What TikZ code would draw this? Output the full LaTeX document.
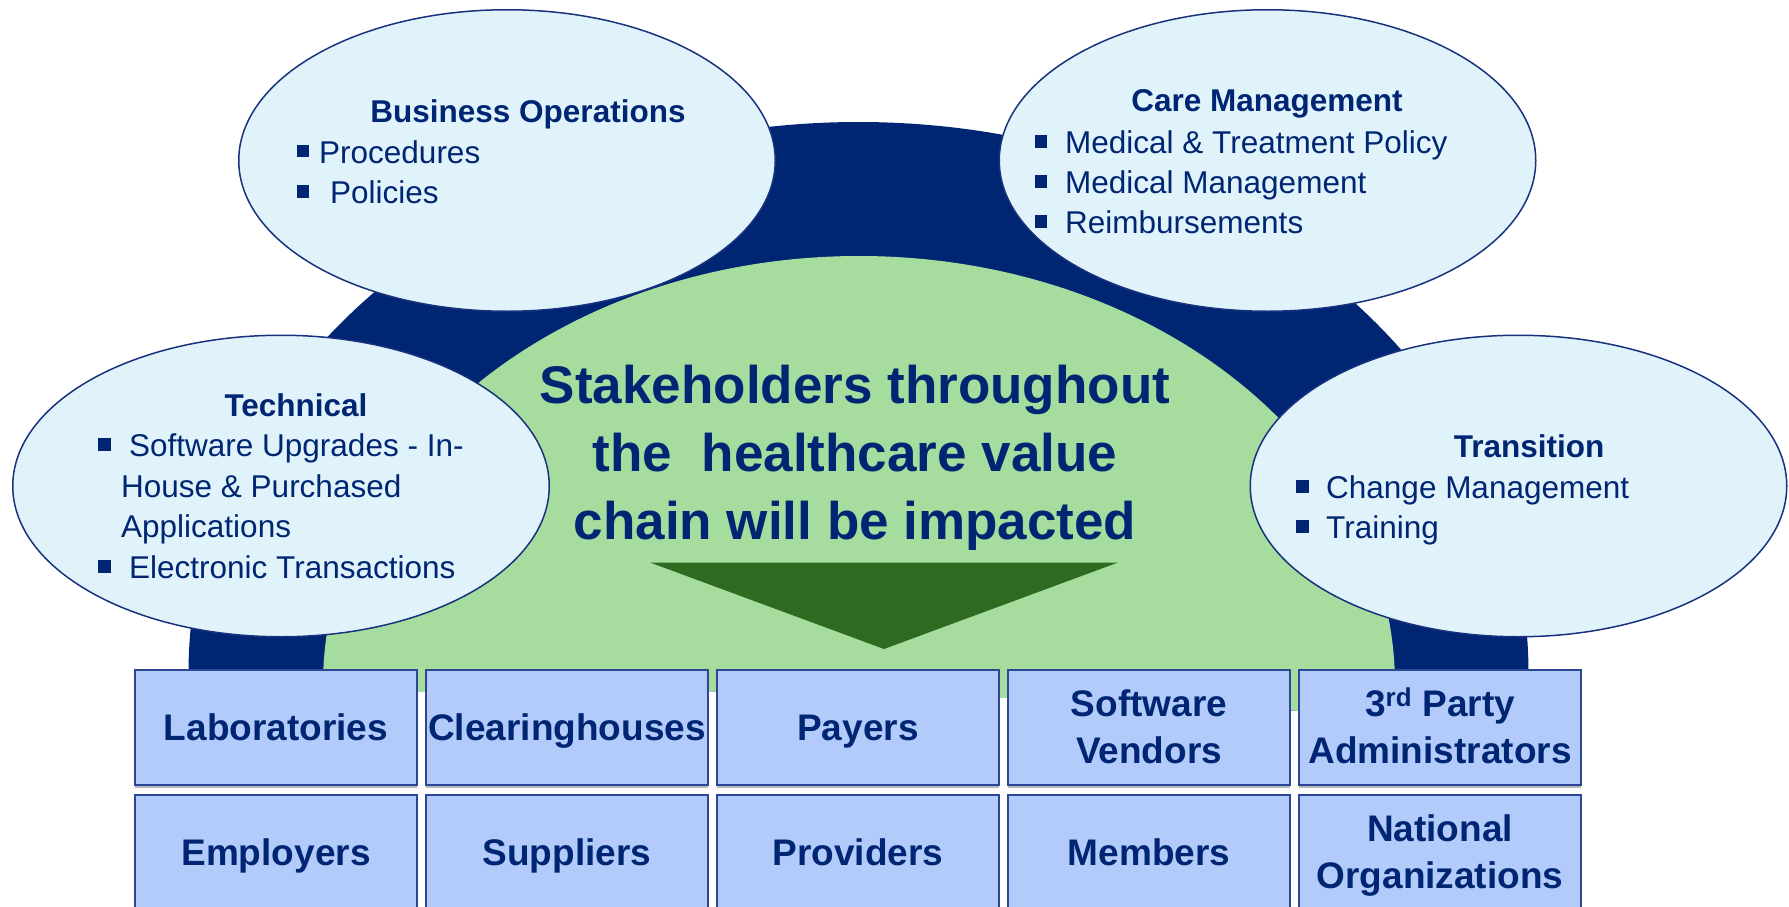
\documentclass[tikz,border=0pt]{standalone}
\usepackage{fontspec}
\setmainfont{Liberation Sans}
\usetikzlibrary{shapes.geometric,shadows}
\definecolor{navy}{RGB}{0,38,115}
\definecolor{hcgreen}{RGB}{166,220,158}
\definecolor{darkgreen}{RGB}{46,106,32}
\definecolor{bubble}{RGB}{225,243,250}
\definecolor{bubbleline}{RGB}{25,50,125}
\definecolor{boxfill}{RGB}{178,203,250}
\definecolor{boxline}{RGB}{42,72,150}
\tikzset{
 bubblenode/.style={ellipse, draw=bubbleline, line width=1.5pt, fill=bubble,
   minimum width=536.5pt, minimum height=301.5pt, inner sep=0pt},
 bubbletitle/.style={anchor=base, text=navy, inner sep=0pt,
   font=\fontsize{31.5}{40}\bfseries\selectfont},
 bubbleitem/.style={anchor=base west, text=navy, inner sep=0pt,
   font=\fontsize{31.5}{40}\selectfont},
 sq/.style={rectangle, fill=navy, minimum size=12.5pt, inner sep=0pt},
 stakebox/.style={rectangle, draw=boxline, line width=2pt, fill=boxfill,
   minimum width=282pt, minimum height=115pt, inner sep=0pt, text=navy,
   font=\fontsize{37}{47}\bfseries\selectfont, align=center,
   text height=27pt, text depth=2pt,
   drop shadow={shadow xshift=0pt, shadow yshift=-2.5pt, fill=black!28, opacity=1}},
 twoline/.style={text height=73pt, text depth=2pt},
 msgtext/.style={anchor=base, text=navy, inner sep=0pt, align=center,
   font=\fontsize{53}{68}\bfseries\selectfont},
}
\begin{document}
\begin{tikzpicture}[x=1pt,y=-1pt]
\useasboundingbox (0,0) rectangle (1789,907);
\clip (0,0) rectangle (1789,907);

% background shapes
\begin{scope}
  \clip (0,0) -- (1789,0) -- (1789,718) -- (1420,718)
        .. controls (1000,692) and (650,686) .. (300,694) -- (0,694) -- cycle;
  \fill[navy] (858.5,673) ellipse [x radius=670pt, y radius=551pt];
  \fill[hcgreen] (859,685) ellipse [x radius=536pt, y radius=429pt];
\end{scope}
\fill[darkgreen] (650,562.5) -- (1118,562.5) -- (884,649) -- cycle;

% Business Operations
\node[bubblenode] (bo) at (507,160.5) {};
\node[bubbletitle] (boT) at (528,122) {Business Operations};
\node[sq] (boS1) at (303,151) {};
\node[bubbleitem] (boI1) at (319,163) {Procedures};
\node[sq] (boS2) at (303,191.5) {};
\node[bubbleitem] (boI2) at (330,203) {Policies};

% Care Management
\node[bubblenode] (cm) at (1267.5,160.5) {};
\node[bubbletitle] (cmT) at (1267,111) {Care Management};
\node[sq] (cmS1) at (1041,141.5) {};
\node[bubbleitem] (cmI1) at (1065,153) {Medical \& Treatment Policy};
\node[sq] (cmS2) at (1041,181.5) {};
\node[bubbleitem] (cmI2) at (1065,193) {Medical Management};
\node[sq] (cmS3) at (1041,221.5) {};
\node[bubbleitem] (cmI3) at (1065,233) {Reimbursements};

% Technical
\node[bubblenode] (te) at (281,486) {};
\node[bubbletitle] (teT) at (296,416) {Technical};
\node[sq] (teS1) at (104.5,444.5) {};
\node[bubbleitem] (teI1) at (129,456) {Software Upgrades - In-};
\node[bubbleitem] (teI1b) at (121,497) {House \& Purchased};
\node[bubbleitem] (teI1c) at (121,537) {Applications};
\node[sq] (teS2) at (104.5,566.5) {};
\node[bubbleitem] (teI2) at (129,578) {Electronic Transactions};

% Transition
\node[bubblenode] (tr) at (1518.5,486) {};
\node[bubbletitle] (trT) at (1529,457) {Transition};
\node[sq] (trS1) at (1302.5,486.5) {};
\node[bubbleitem] (trI1) at (1326,498) {Change Management};
\node[sq] (trS2) at (1302.5,526.5) {};
\node[bubbleitem] (trI2) at (1326,538) {Training};

% central message (base anchor = baseline of the last line)
\node[msgtext] (msg) at (855,539) {Stakeholders throughout\\the\ \ healthcare value\\chain will be impacted};

% stakeholder boxes
\node[stakebox] (lab) at (276,727.5) {Laboratories};
\node[stakebox] (clr) at (567,727.5) {Clearinghouses};
\node[stakebox] (pay) at (858,727.5) {Payers};
\node[stakebox,twoline] (sw) at (1149,727.5) {Software\\Vendors};
\node[stakebox,twoline] (tpa) at (1440,727.5) {3\textsuperscript{rd} Party\\Administrators};
\node[stakebox] (emp) at (276,852.5) {Employers};
\node[stakebox] (sup) at (567,852.5) {Suppliers};
\node[stakebox] (pro) at (858,852.5) {Providers};
\node[stakebox] (mem) at (1149,852.5) {Members};
\node[stakebox,twoline] (nat) at (1440,852.5) {National\\Organizations};
\end{tikzpicture}
\end{document}
